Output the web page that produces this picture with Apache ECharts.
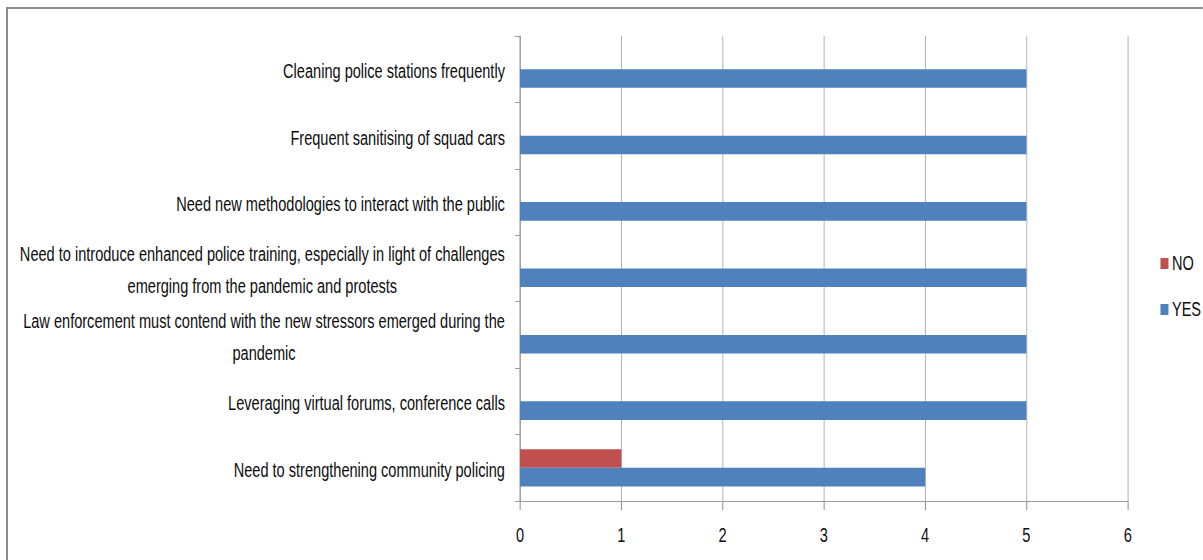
<!DOCTYPE html>
<html>
<head>
<meta charset="utf-8">
<script src="https://cdn.jsdelivr.net/npm/echarts@6/dist/echarts.min.js"></script>
<style>
html,body{margin:0;padding:0;background:#fff;overflow:hidden;width:1203px;height:560px;}
#wrap{width:1203px;height:560px;overflow:hidden;position:relative;}
#chart{height:560px;transform-origin:0 0;position:absolute;left:0;top:0;}
</style>
</head>
<body>
<div id="wrap"><div id="chart"></div></div>
<script>
// Categories listed bottom to top
const categories = [
  "Need to strengthening community policing",
  "Leveraging virtual forums, conference calls",
  "Law enforcement must contend with the new stressors emerged during the\npandemic",
  "Need to introduce enhanced police training, especially in light of challenges\nemerging from the pandemic and protests",
  "Need new methodologies to interact with the public",
  "Frequent sanitising of squad cars",
  "Cleaning police stations frequently"
];
const yesValues = [4, 5, 5, 5, 5, 5, 5];
const noValues = [1, 0, 0, 0, 0, 0, 0];
const xTicks = [0, 1, 2, 3, 4, 5, 6];

// horizontal condensing factor applied to the whole chart (narrow font look)
const SX = 0.694;
const W = 1203 / SX;
const px = function (v) { return v / SX; };

const el = document.getElementById('chart');
el.style.width = W + 'px';
el.style.transform = 'scaleX(' + SX + ')';

const FONT = '"Liberation Sans", Arial, sans-serif';
const TXT = '#0d0d0d';
const FS = 21;
const chart = echarts.init(el, null, { renderer: 'svg' });
chart.setOption({
  animation: false,
  backgroundColor: '#ffffff',
  textStyle: { fontFamily: FONT },
  graphic: [
    { type: 'line', silent: true, shape: { x1: px(6), y1: 8, x2: W + 10, y2: 8 }, style: { stroke: '#8c8c8c', lineWidth: 2 } },
    { type: 'line', silent: true, shape: { x1: px(7), y1: 8, x2: px(7), y2: 600 }, style: { stroke: '#8c8c8c', lineWidth: px(2) } }
  ],
  legend: {
    orient: 'vertical',
    left: px(1157),
    top: 248,
    data: ['NO', 'YES'],
    itemWidth: px(8),
    itemHeight: 11,
    itemGap: 25,
    icon: 'rect',
    textStyle: { fontFamily: FONT, fontSize: FS, color: TXT, padding: [0, 0, 0, 0] }
  },
  grid: { left: px(520), right: W - px(1128), top: 36, bottom: 59, containLabel: false, outerBoundsMode: 'none' },
  xAxis: {
    type: 'value',
    min: xTicks[0],
    max: xTicks[xTicks.length - 1],
    interval: 1,
    axisLine: { show: true, lineStyle: { color: '#8c8c8c', width: 1 } },
    axisTick: { show: true, length: 9, lineStyle: { color: '#8c8c8c', width: px(1) } },
    axisLabel: { fontFamily: FONT, fontSize: FS, color: TXT, margin: 24 },
    splitLine: { show: true, lineStyle: { color: '#b4b4b4', width: px(1) } }
  },
  yAxis: {
    type: 'category',
    data: categories,
    axisLine: { show: true, lineStyle: { color: '#8c8c8c', width: px(1) } },
    axisTick: { show: true, length: px(5), lineStyle: { color: '#8c8c8c', width: 1 } },
    axisLabel: {
      margin: px(15),
      fontFamily: FONT,
      fontSize: FS,
      color: TXT,
      lineHeight: 32,
      formatter: function (v) {
        return v.split('\n').map(function (s) { return '{c|' + s + '}'; }).join('\n');
      },
      rich: { c: { align: 'center', fontFamily: FONT, fontSize: FS, color: TXT, lineHeight: 32, padding: [4, 0, 0, 0] } }
    },
    splitLine: { show: false }
  },
  series: [
    {
      name: 'NO',
      type: 'bar',
      data: noValues,
      barGap: '0%',
      barCategoryGap: '44%',
      itemStyle: { color: '#C0504D' }
    },
    {
      name: 'YES',
      type: 'bar',
      data: yesValues,
      barGap: '0%',
      barCategoryGap: '44%',
      itemStyle: { color: '#4F81BD' }
    }
  ]
});
</script>
</body>
</html>
